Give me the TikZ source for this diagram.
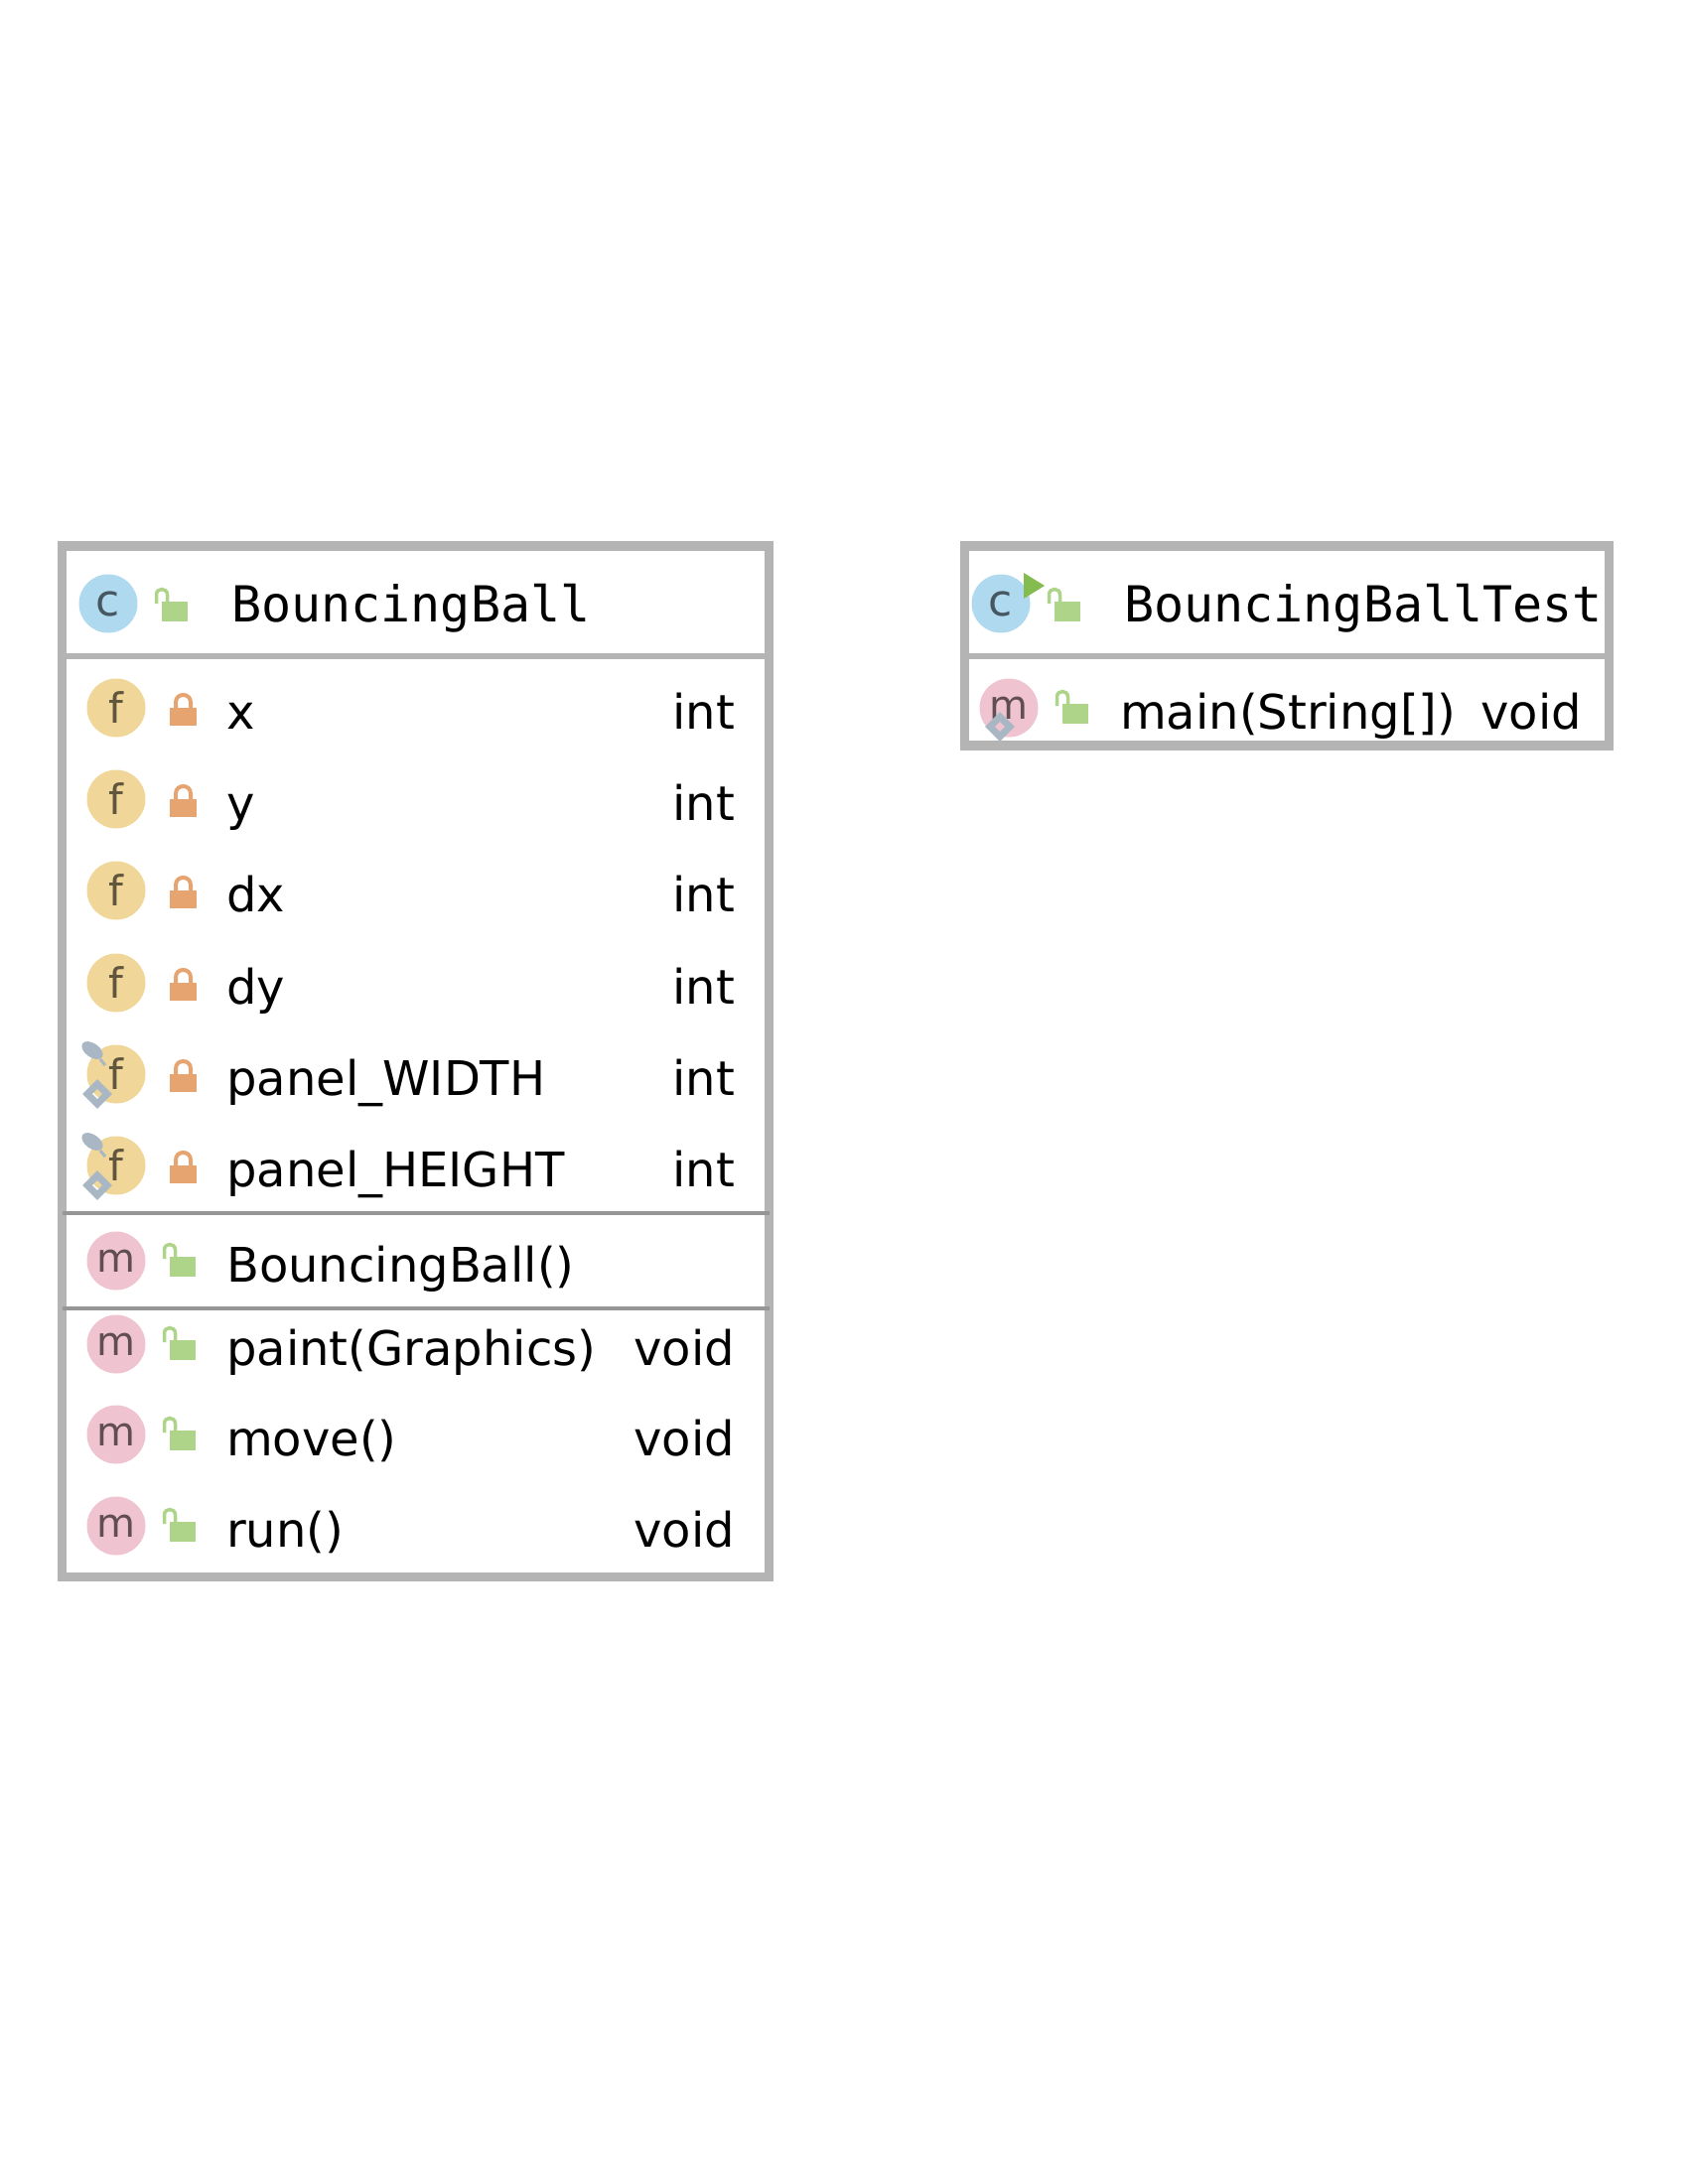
\documentclass[tikz,border=0pt]{standalone}
\usepackage{fontspec}
\setmainfont{DejaVu Sans}
\newfontfamily\titlefont{DejaVu Sans Mono}
\usetikzlibrary{positioning}
\definecolor{framegray}{HTML}{B4B4B4}
\definecolor{sepgray}{HTML}{969696}
\definecolor{classblue}{HTML}{AFD9EE}
\definecolor{fieldyellow}{HTML}{F0D698}
\definecolor{methodpink}{HTML}{EFC3CF}
\definecolor{openlock}{HTML}{AED48A}
\definecolor{shutlock}{HTML}{E6A470}
\definecolor{runarrow}{HTML}{84BC50}
\definecolor{markgray}{HTML}{A9B7C4}
\tikzset{
    classframe/.style={draw=framegray, line width=9.5pt, outer sep=0pt, anchor=north west},
    headsep/.style={draw=framegray, line width=6pt},
    groupsep/.style={draw=sepgray, line width=4.5pt},
    icondisc/.style={circle, minimum size=59pt, inner sep=0pt, text=#1},
    classicon/.style={icondisc=black!60!classblue, fill=classblue, font=\fontsize{44}{44}\selectfont},
    fieldicon/.style={icondisc=black!60!fieldyellow, fill=fieldyellow, font=\fontsize{42}{42}\selectfont},
    methodicon/.style={icondisc=black!60!methodpink, fill=methodpink, font=\fontsize{40}{40}\selectfont},
    titletext/.style={anchor=base west, inner sep=0pt, font=\titlefont\fontsize{50}{60}\selectfont},
    membertext/.style={anchor=base west, inner sep=0pt, font=\fontsize{48}{58}\selectfont},
    typetext/.style={anchor=base east, inner sep=0pt, font=\fontsize{48}{58}\selectfont},
    openpic/.pic={
        \fill[openlock] (0,0) rectangle (26,20);
        \draw[openlock, line width=3.5pt] (-5.5,2) -- (-5.5,-7) .. controls (-5.5,-14.3) and (5.5,-14.3) .. (5.5,-7) -- (5.5,0);
    },
    shutpic/.pic={
        \fill[shutlock] (0,0) rectangle (27,18);
        \draw[shutlock, line width=4pt] (6,1) -- (6,-5.5) .. controls (6,-15.5) and (21,-15.5) .. (21,-5.5) -- (21,1);
    },
    diamondpic/.pic={
        \draw[markgray, line width=7pt] (-10,0) -- (0,-10) -- (10,0) -- (0,10) -- cycle;
    },
    pinpic/.pic={
        \fill[markgray, rotate=-35] (0,0) ellipse (12pt and 7pt);
        \draw[markgray, line width=3pt] (8,9) -- (13,15);
    },
}
\begin{document}
\begin{tikzpicture}[x=1pt, y=-1pt]
    \useasboundingbox (0,0) rectangle (1700,2200);

    % first class
    \node[classicon] (ballicon) at (109,608) {c};
    \pic at (163,606) {openpic};
    \node[titletext] (balltitle) at (233,626) {BouncingBall};

    \foreach \i/\yy/\fname in {1/713/x, 2/805/y, 3/897/dx, 4/990/dy, 5/1082/panel\_WIDTH, 6/1174/panel\_HEIGHT} {
        \node[fieldicon] (fieldicon\i) at (117,\yy) {f};
        \pic at (171,\yy) {shutpic};
        \node[membertext] (fieldname\i) at (228,\yy+21) {\fname};
        \node[typetext] (fieldtype\i) at (740,\yy+21) {int};
    }
    \pic at (93,1058) {pinpic};
    \pic at (98,1102) {diamondpic};
    \pic at (93,1150) {pinpic};
    \pic at (98,1194) {diamondpic};

    \node[methodicon] (ctoricon) at (117,1270) {m};
    \pic at (171,1266) {openpic};
    \node[membertext] (ctorname) at (228,1291) {BouncingBall()};

    \foreach \i/\yy/\mname in {1/1354/paint(Graphics), 2/1445/move(), 3/1537/run()} {
        \node[methodicon] (methodicon\i) at (117,\yy) {m};
        \pic at (171,\yy-4) {openpic};
        \node[membertext] (methodname\i) at (228,\yy+21) {\mname};
        \node[typetext] (methodtype\i) at (740,\yy+21) {void};
    }

    \node[classframe, minimum width=712pt, minimum height=1038.5pt] (ballframe) at (62.5,550) {};
    \draw[headsep] (ballframe.west |- 0,661) -- (ballframe.east |- 0,661);
    \draw[groupsep] (ballframe.west |- 0,1222) -- (ballframe.east |- 0,1222);
    \draw[groupsep, line width=3.5pt] (ballframe.west |- 0,1318) -- (ballframe.east |- 0,1318);

    % second class
    \node[classicon] (testicon) at (1008,608) {c};
    \fill[runarrow] (1031,577) -- (1052,590) -- (1031,603) -- cycle;
    \pic at (1062,606) {openpic};
    \node[titletext] (testtitle) at (1132,626) {BouncingBallTest};

    \node[methodicon] (mainicon) at (1016,713) {m};
    \pic at (1007,732) {diamondpic};
    \pic at (1070,709) {openpic};
    \node[membertext] (mainname) at (1128,734) {main(String[])};
    \node[typetext] (maintype) at (1593,734) {void};

    \node[classframe, minimum width=649pt, minimum height=201pt] (testframe) at (971.5,550) {};
    \draw[headsep] (testframe.west |- 0,661) -- (testframe.east |- 0,661);
\end{tikzpicture}
\end{document}
